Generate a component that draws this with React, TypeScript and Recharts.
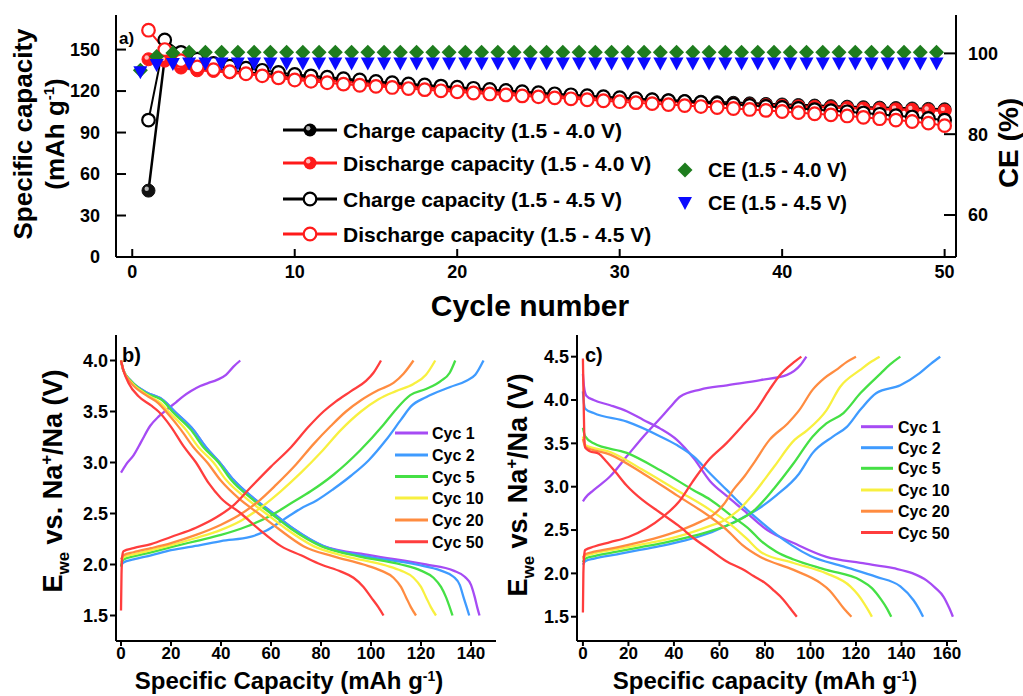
import React from 'react';
import { ComposedChart, LineChart, Line, XAxis, YAxis } from 'recharts';

const FONT = '"Liberation Sans", Arial, Helvetica, sans-serif';

// ---------- Panel a data ----------
const cycles = [1,2,3,4,5,6,7,8,9,10,11,12,13,14,15,16,17,18,19,20,21,22,23,24,25,26,27,28,29,30,31,32,33,34,35,36,37,38,39,40,41,42,43,44,45,46,47,48,49,50];
const charge40 = [48,144,138,136,135.5,134.5,133.5,132.5,131.5,130.5,129.5,128.6,127.7,126.8,125.9,125,124.2,123.4,122.6,121.8,121,120.3,119.6,118.9,118.2,117.5,116.8,116.1,115.5,114.9,114.3,113.8,113.3,112.8,112.3,111.9,111.5,111.1,110.7,110.3,109.9,109.5,109.1,108.7,108.3,108,107.7,107.4,107.1,106.8];
const discharge40 = [143,142,137,135,134.5,133.5,132.5,131.5,130.5,129.5,128.5,127.6,126.7,125.8,124.9,124,123.2,122.4,121.6,120.8,120,119.3,118.6,117.9,117.2,116.5,115.8,115.1,114.5,113.9,113.3,112.8,112.3,111.8,111.3,110.9,110.5,110.1,109.7,109.3,108.9,108.5,108.1,107.7,107.3,107,106.7,106.4,106.1,105.8];
const charge45 = [99,157,148,143,140,138,136.5,135,133.5,132,131,130,129,128,127,126,125.2,124.4,123.6,122.8,122,121.2,120.4,119.6,118.8,118,117.3,116.6,115.9,115.2,114.5,113.8,113.1,112.4,111.7,111,110.3,109.6,108.9,108.2,107.4,106.6,105.8,105,104.1,103.2,102.2,101.2,100.2,99];
const discharge45 = [164,150,142,137.5,135.5,134,132.5,131,129.5,128,127,126,125,124.2,123.4,122.6,121.8,121,120.2,119.4,118.6,117.9,117.2,116.5,115.8,115.1,114.4,113.7,113,112.3,111.6,110.9,110.2,109.5,108.8,108.1,107.4,106.7,106,105.2,104.4,103.6,102.8,102,101,100,99,98,96.8,95];
const ce40 = [95.8,99.2,100.1,100.3,100.3,100.3,100.3,100.3,100.3,100.3,100.3,100.3,100.3,100.3,100.3,100.3,100.3,100.3,100.3,100.3,100.3,100.3,100.3,100.3,100.3,100.3,100.3,100.3,100.3,100.3,100.3,100.3,100.3,100.3,100.3,100.3,100.3,100.3,100.3,100.3,100.3,100.3,100.3,100.3,100.3,100.3,100.3,100.3,100.3,100.3];
const ce45 = [95.3,97.1,97.4,97.5,97.5,97.5,97.5,97.5,97.5,97.5,97.5,97.5,97.5,97.5,97.5,97.5,97.5,97.5,97.5,97.5,97.5,97.5,97.5,97.5,97.5,97.5,97.5,97.5,97.5,97.5,97.5,97.5,97.5,97.5,97.5,97.5,97.5,97.5,97.5,97.5,97.5,97.5,97.5,97.5,97.5,97.5,97.5,97.5,97.5,97.5];
const ceCycleShift = -0.5;
const capTicks = [0, 30, 60, 90, 120, 150];
const ceTicks = [60, 80, 100];
const cycleTicks = [0, 10, 20, 30, 40, 50];

// ---------- Panel b data (1.5 - 4.0 V) ----------
const bCharge1 = [[0,2.9],[2,2.98],[5,3.07],[8,3.2],[11.7,3.36],[15,3.45],[18.4,3.52],[22,3.59],[25,3.65],[28,3.7],[31.7,3.75],[35,3.78],[38.4,3.81],[42,3.86],[45,3.94],[47.7,4.0]];
const bDis1 = [[0,4.0],[1,3.9],[4,3.8],[10,3.69],[17,3.61],[21.5,3.5],[29,3.32],[34,3.15],[39.5,3.0],[45,2.83],[53,2.65],[61,2.5],[69,2.35],[81,2.18],[100,2.09],[122,2.0],[133,1.94],[137.5,1.88],[140,1.8],[141.5,1.68],[142.5,1.58],[143.4,1.5]];
const bCharge2 = [[0,1.98],[0.3,2.0],[1,2.02],[5,2.05],[12,2.09],[20,2.14],[31.7,2.19],[40,2.23],[51.7,2.27],[58,2.33],[65,2.44],[72,2.55],[78.4,2.63],[85,2.74],[92,2.87],[99,3.02],[106,3.22],[112,3.42],[116,3.55],[122,3.64],[131.7,3.74],[138,3.8],[141.7,3.86],[145,4.0]];
const bDis2 = [[0,4.0],[1,3.9],[4,3.8],[10,3.69],[17,3.61],[21.5,3.5],[29,3.32],[34,3.15],[39.5,3.0],[45,2.83],[53,2.65],[61,2.5],[69,2.35],[81,2.18],[98,2.08],[118,2.0],[128,1.94],[133,1.88],[135.5,1.8],[137,1.68],[138.3,1.58],[139.3,1.5]];
const bCharge5 = [[0,1.98],[0.3,2.02],[1,2.05],[5,2.08],[12,2.12],[20,2.17],[30,2.23],[40,2.29],[50,2.37],[60,2.48],[68,2.6],[76,2.72],[85,2.88],[95.7,3.12],[105,3.37],[110,3.52],[115.7,3.66],[122,3.72],[128,3.8],[131.5,3.88],[133.7,4.0]];
const bDis5 = [[0,4.0],[1,3.9],[4,3.8],[10,3.68],[17,3.6],[20.5,3.5],[28,3.32],[33,3.15],[39,3.0],[44,2.83],[52,2.65],[60,2.5],[68,2.35],[80,2.18],[95,2.08],[112,2.0],[120,1.94],[125,1.87],[128,1.78],[130,1.68],[131.5,1.58],[132.6,1.5]];
const bCharge10 = [[0,2.02],[1,2.07],[5,2.1],[12,2.14],[20,2.19],[30,2.26],[40,2.34],[48,2.43],[56,2.56],[64,2.72],[72,2.9],[80,3.1],[88,3.32],[96,3.5],[103,3.62],[110,3.7],[117,3.77],[122,3.86],[125.7,4.0]];
const bDis10 = [[0,4.0],[1,3.9],[4,3.79],[10,3.67],[16,3.58],[19,3.5],[26,3.32],[31,3.15],[37,3.0],[42,2.83],[50,2.65],[58,2.5],[66,2.35],[77,2.18],[90,2.08],[106,1.99],[112,1.94],[117,1.87],[120,1.78],[122,1.68],[124,1.58],[126,1.5]];
const bCharge20 = [[0,2.05],[1,2.09],[5,2.12],[12,2.16],[20,2.21],[30,2.29],[40,2.39],[47,2.48],[55,2.62],[62,2.78],[70,2.98],[77,3.18],[84,3.36],[90,3.5],[96,3.61],[103,3.71],[109,3.78],[113,3.87],[117,4.0]];
const bDis20 = [[0,4.0],[1,3.9],[4,3.78],[10,3.66],[15,3.58],[18,3.5],[24,3.32],[29,3.15],[34.5,3.0],[40,2.82],[47,2.65],[55,2.5],[63,2.35],[73,2.18],[85,2.08],[97,2.0],[104,1.94],[109,1.87],[112,1.78],[114,1.68],[116,1.58],[118,1.5]];
const bCharge50 = [[0,1.55],[0.2,1.9],[0.5,2.08],[1,2.13],[5,2.16],[12,2.2],[20,2.27],[30,2.36],[38,2.46],[45,2.58],[52,2.76],[60,2.96],[68,3.15],[75,3.35],[81,3.5],[86,3.6],[92,3.7],[98,3.8],[101,3.88],[104,4.0]];
const bDis50 = [[0,4.0],[1,3.9],[3,3.78],[7,3.65],[12,3.56],[15,3.5],[20,3.35],[25,3.16],[30,3.0],[35,2.8],[40,2.65],[48,2.5],[55,2.35],[64,2.18],[72,2.09],[80,2.0],[88,1.93],[93,1.87],[97,1.78],[100,1.68],[103,1.58],[105,1.5]];

// ---------- Panel c data (1.5 - 4.5 V) ----------
const cCharge1 = [[0,2.83],[1,2.87],[4.7,2.96],[12,3.12],[19.3,3.35],[26.6,3.58],[34,3.79],[38.4,3.92],[42.8,4.04],[51.6,4.12],[63.3,4.17],[78,4.23],[89.7,4.29],[95.5,4.4],[98.2,4.5]];
const cDis1 = [[0,4.3],[0.5,4.15],[1.5,4.05],[4.7,4.0],[12,3.94],[19.3,3.87],[26.6,3.77],[34,3.67],[41.3,3.54],[48.6,3.33],[56,3.06],[63.3,2.89],[70.6,2.73],[81,2.5],[92.6,2.35],[107,2.19],[122,2.12],[136.5,2.06],[145,2.0],[151,1.92],[155,1.83],[158.5,1.73],[161,1.6],[162.6,1.5]];
const cCharge2 = [[0,2.1],[1,2.14],[5,2.17],[15,2.22],[25,2.27],[35,2.32],[45,2.38],[55,2.46],[63,2.55],[70,2.64],[78,2.76],[85,2.9],[95,3.15],[101,3.39],[110,3.58],[116,3.69],[122,3.89],[129,4.08],[139.5,4.17],[148,4.31],[153,4.42],[157,4.5]];
const cDis2 = [[0,4.1],[0.5,3.95],[1,3.9],[4.7,3.85],[19.3,3.75],[34,3.58],[41.3,3.48],[48.6,3.35],[56,3.15],[63.3,2.96],[70.6,2.77],[78,2.6],[85,2.45],[92,2.32],[100,2.2],[114.5,2.08],[129,1.96],[139.5,1.85],[145.3,1.69],[147.5,1.6],[149.5,1.5]];
const cCharge5 = [[0,2.13],[1,2.17],[5,2.2],[15,2.25],[25,2.3],[35,2.35],[45,2.41],[55,2.48],[65,2.57],[75,2.72],[84,2.98],[92.6,3.27],[101,3.58],[107,3.73],[114.5,3.85],[122,4.08],[131,4.31],[135,4.41],[139.5,4.5]];
const cDis5 = [[0,3.68],[0.5,3.62],[1,3.58],[4.7,3.5],[19.3,3.39],[34,3.19],[48.6,2.96],[56,2.85],[66,2.65],[73.5,2.5],[78,2.38],[85,2.25],[92.6,2.16],[107,2.04],[122,1.92],[127,1.83],[131,1.7],[133.5,1.6],[135.5,1.5]];
const cCharge10 = [[0,2.16],[1,2.2],[5,2.23],[15,2.28],[25,2.33],[35,2.38],[45,2.45],[55,2.54],[62,2.61],[68,2.72],[75,2.92],[84,3.23],[93,3.54],[98.5,3.65],[107,3.88],[113,4.15],[122,4.35],[126,4.43],[130.4,4.5]];
const cDis10 = [[0,3.58],[0.5,3.52],[1,3.48],[12,3.4],[26.6,3.19],[41.3,2.96],[56,2.73],[66,2.54],[72,2.4],[78,2.25],[92.6,2.12],[107,2.0],[117.5,1.85],[121,1.75],[123.4,1.66],[125.5,1.57],[127,1.5]];
const cCharge20 = [[0,2.18],[1,2.22],[5,2.25],[15,2.3],[25,2.36],[35,2.43],[45,2.52],[52,2.6],[57,2.67],[62,2.8],[66,2.96],[71,3.12],[75,3.27],[82,3.54],[90,3.73],[95,3.88],[101,4.12],[106,4.25],[112,4.36],[116,4.44],[120,4.5]];
const cDis20 = [[0,3.55],[0.5,3.5],[1,3.46],[12,3.37],[26.6,3.15],[41.3,2.9],[56,2.65],[63.3,2.5],[70,2.33],[78,2.19],[92.6,2.04],[104.3,1.89],[108.5,1.8],[111.6,1.7],[114.5,1.6],[118,1.5]];
const cCharge50 = [[0,1.55],[0.2,2.0],[0.6,2.22],[1,2.27],[5,2.31],[12,2.36],[20,2.42],[28,2.52],[35,2.65],[42,2.82],[48,3.05],[55,3.3],[63,3.5],[70,3.7],[76,3.88],[82,4.12],[87,4.3],[92,4.42],[96,4.5]];
const cDis50 = [[0,4.48],[0.3,4.0],[0.6,3.6],[1,3.45],[3,3.41],[7,3.38],[10,3.3],[14,3.18],[19,3.02],[26,2.85],[34,2.7],[42,2.55],[49,2.4],[56,2.27],[63,2.14],[70,2.05],[75,1.97],[80,1.89],[84,1.8],[88,1.7],[91,1.6],[94,1.5]];

const cycLabels = ['Cyc 1', 'Cyc 2', 'Cyc 5', 'Cyc 10', 'Cyc 20', 'Cyc 50'];
const cycColors = ['#a64bf4', '#3f9bff', '#45e045', '#f8f040', '#ff8c40', '#ff3d3d'];
const bCurves = [[bCharge1, bDis1], [bCharge2, bDis2], [bCharge5, bDis5], [bCharge10, bDis10], [bCharge20, bDis20], [bCharge50, bDis50]];
const cCurves = [[cCharge1, cDis1], [cCharge2, cDis2], [cCharge5, cDis5], [cCharge10, cDis10], [cCharge20, cDis20], [cCharge50, cDis50]];
const bVTicks = [1.5, 2.0, 2.5, 3.0, 3.5, 4.0];
const cVTicks = [1.5, 2.0, 2.5, 3.0, 3.5, 4.0, 4.5];
const bCapTicks = [0, 20, 40, 60, 80, 100, 120, 140];
const cCapTicks = [0, 20, 40, 60, 80, 100, 120, 140, 160];

const toPts = (arr: number[][]) => arr.map(([x, v]) => ({ x, v }));

const capRows = cycles.map((c, i) => ({
  x: c,
  charge40: charge40[i],
  discharge40: discharge40[i],
  charge45: charge45[i],
  discharge45: discharge45[i],
}));
const ce40Rows = cycles.map((c, i) => ({ x: c + ceCycleShift, ce: ce40[i] }));
const ce45Rows = cycles.map((c, i) => ({ x: c + ceCycleShift, ce: ce45[i] }));

const axisStroke = { stroke: '#000', strokeWidth: 2 };
const tickStyle = { fill: '#000', fontSize: 18, fontWeight: 'bold', fontFamily: FONT };
const bottomTickStyle = { fill: '#000', fontSize: 17, fontWeight: 'bold', fontFamily: FONT };

const filledDot = (color: string) => (props: any) => {
  const { cx, cy, index } = props;
  if (cx == null || cy == null) return <g key={`f${index}`} />;
  return (
    <g key={`f${color}${index}`}>
      <circle cx={cx} cy={cy} r={6.5} fill={color} stroke={color} strokeWidth={1} />
      <circle cx={cx - 1.8} cy={cy - 1.8} r={2.2} fill="#fff" opacity={0.7} />
    </g>
  );
};
const openDot = (color: string) => (props: any) => {
  const { cx, cy, index } = props;
  if (cx == null || cy == null) return <g key={`o${index}`} />;
  return <circle key={`o${color}${index}`} cx={cx} cy={cy} r={6.3} fill="#fff" stroke={color} strokeWidth={2.2} />;
};
const diamondDot = (props: any) => {
  const { cx, cy, index } = props;
  if (cx == null || cy == null) return <g key={`dm${index}`} />;
  const s = 7.5;
  return <polygon key={`dm${index}`} points={`${cx},${cy - s} ${cx + s},${cy} ${cx},${cy + s} ${cx - s},${cy}`} fill="#1e7d1e" />;
};
const triDot = (props: any) => {
  const { cx, cy, index } = props;
  if (cx == null || cy == null) return <g key={`tr${index}`} />;
  return <polygon key={`tr${index}`} points={`${cx - 7},${cy - 6} ${cx + 7},${cy - 6} ${cx},${cy + 7}`} fill="#0a0aff" />;
};

function TopChart() {
  return (
    <ComposedChart width={1023} height={300} data={capRows} margin={{ top: 15, right: 0, bottom: 13, left: 0 }}>
      <XAxis xAxisId="b" dataKey="x" type="number" domain={[-1, 50.7]} ticks={cycleTicks} allowDataOverflow
        height={30} axisLine={axisStroke} tickLine={axisStroke} tickSize={-8} tickMargin={16} tick={tickStyle} />
      <XAxis xAxisId="t" orientation="top" type="number" domain={[0, 1]} height={0} tick={false} tickLine={false} axisLine={axisStroke} />
      <YAxis yAxisId="cap" type="number" domain={[0, 175]} ticks={capTicks} width={116} allowDataOverflow
        axisLine={axisStroke} tickLine={axisStroke} tickSize={-10} tickMargin={26} tick={tickStyle} />
      <YAxis yAxisId="ce" orientation="right" type="number" domain={[49.6, 109.5]} ticks={ceTicks} width={67} allowDataOverflow
        axisLine={axisStroke} tickLine={axisStroke} tickSize={-12} tickMargin={24} tick={{ ...tickStyle, textAnchor: 'start' }} />
      <Line xAxisId="b" yAxisId="cap" dataKey="charge40" stroke="#000" strokeWidth={2.5} dot={filledDot('#111')} isAnimationActive={false} />
      <Line xAxisId="b" yAxisId="cap" dataKey="discharge40" stroke="#ff1a1a" strokeWidth={2.5} dot={filledDot('#ff1a1a')} isAnimationActive={false} />
      <Line xAxisId="b" yAxisId="cap" dataKey="charge45" stroke="#000" strokeWidth={2} dot={openDot('#000')} isAnimationActive={false} />
      <Line xAxisId="b" yAxisId="cap" dataKey="discharge45" stroke="#ff1a1a" strokeWidth={2} dot={openDot('#ff1a1a')} isAnimationActive={false} />
      <Line xAxisId="b" yAxisId="ce" data={ce40Rows} dataKey="ce" stroke="none" dot={diamondDot} isAnimationActive={false} />
      <Line xAxisId="b" yAxisId="ce" data={ce45Rows} dataKey="ce" stroke="none" dot={triDot} isAnimationActive={false} />
    </ComposedChart>
  );
}

function VoltChart(props: { curves: number[][][][]; capDomain: number[]; capTicks: number[]; vDomain: number[]; vTicks: number[]; yWidth: number; width: number; rightMargin: number }) {
  const { curves, capDomain, capTicks: cts, vDomain, vTicks, yWidth, width, rightMargin } = props;
  return (
    <LineChart width={width} height={376} margin={{ top: 15, right: rightMargin, bottom: 25, left: 0 }}>
      <XAxis xAxisId="b" dataKey="x" type="number" domain={capDomain} ticks={cts} allowDataOverflow height={30}
        axisLine={axisStroke} tickLine={axisStroke} tickSize={5} tickMargin={1} tick={bottomTickStyle} />
      <XAxis xAxisId="t" orientation="top" type="number" domain={[0, 1]} height={0} tick={false} tickLine={false} axisLine={axisStroke} />
      <YAxis yAxisId="l" type="number" domain={vDomain} ticks={vTicks} width={yWidth} allowDataOverflow
        axisLine={axisStroke} tickLine={axisStroke} tickSize={6} tickMargin={2} tick={tickStyle}
        tickFormatter={(v: number) => v.toFixed(1)} />
      <YAxis yAxisId="r" orientation="right" type="number" domain={[0, 1]} width={0} tick={false} tickLine={false} axisLine={axisStroke} />
      {curves.map((pair, i) =>
        pair.map((arr, j) => (
          <Line key={`${i}-${j}`} xAxisId="b" yAxisId="l" data={toPts(arr)} dataKey="v" type="monotone"
            stroke={cycColors[i]} strokeWidth={2.3} dot={false} isAnimationActive={false} />
        ))
      )}
    </LineChart>
  );
}

const txt = { fontFamily: FONT, fontWeight: 'bold' as const, fill: '#000' };

function Overlay() {
  const topLegend = [
    { label: 'Charge capacity (1.5 - 4.0 V)', color: '#000', filled: true, y: 130 },
    { label: 'Discharge capacity (1.5 - 4.0 V)', color: '#ff1a1a', filled: true, y: 163 },
    { label: 'Charge capacity (1.5 - 4.5 V)', color: '#000', filled: false, y: 199 },
    { label: 'Discharge capacity (1.5 - 4.5 V)', color: '#ff1a1a', filled: false, y: 234 },
  ];
  const bRows = [433, 455, 476.5, 498, 520, 541.7];
  const cRows = [426.7, 447.7, 468.3, 490, 511.2, 532.5];
  return (
    <svg width={1023} height={696} style={{ position: 'absolute', left: 0, top: 0, pointerEvents: 'none' }}>
      {/* panel a */}
      <text x={119} y={44} fontSize={17} {...txt}>a)</text>
      <g transform="translate(23,134) rotate(-90)">
        <text x={0} y={9} textAnchor="middle" fontSize={26} {...txt}>Specific capacity</text>
      </g>
      <g transform="translate(55,134) rotate(-90)">
        <text x={0} y={9} textAnchor="middle" fontSize={26} {...txt}>(mAh g<tspan dy={-10} fontSize={15}>-1</tspan><tspan dy={10}>)</tspan></text>
      </g>
      <g transform="translate(1008,143) rotate(-90)">
        <text x={0} y={10} textAnchor="middle" fontSize={28} {...txt}>CE (%)</text>
      </g>
      <text x={530} y={316} textAnchor="middle" fontSize={30} {...txt}>Cycle number</text>
      {topLegend.map((e) => (
        <g key={e.label}>
          <line x1={283} x2={337} y1={e.y} y2={e.y} stroke={e.color} strokeWidth={3} />
          {e.filled ? (
            <g>
              <circle cx={310} cy={e.y} r={6.5} fill={e.color} />
              <circle cx={308.2} cy={e.y - 1.8} r={2.2} fill="#fff" opacity={0.7} />
            </g>
          ) : (
            <circle cx={310} cy={e.y} r={6.3} fill="#fff" stroke={e.color} strokeWidth={2.2} />
          )}
          <text x={343} y={e.y + 7.5} fontSize={21} {...txt}>{e.label}</text>
        </g>
      ))}
      <polygon points="685,162.5 692.5,170 685,177.5 677.5,170" fill="#1e7d1e" />
      <text x={708} y={177} fontSize={20} {...txt}>CE (1.5 - 4.0 V)</text>
      <polygon points="678,197 692,197 685,210" fill="#0a0aff" />
      <text x={708} y={210} fontSize={20} {...txt}>CE (1.5 - 4.5 V)</text>

      {/* panel b */}
      <text x={122} y={362} fontSize={20} {...txt}>b)</text>
      <g transform="translate(52,481) rotate(-90)">
        <text x={0} y={10} textAnchor="middle" fontSize={27} {...txt}>E<tspan dy={7} fontSize={17}>we</tspan><tspan dy={-7}> vs. Na</tspan><tspan dy={-10} fontSize={17}>+</tspan><tspan dy={10}>/Na (V)</tspan></text>
      </g>
      <text x={289} y={689} textAnchor="middle" fontSize={24} {...txt}>Specific Capacity (mAh g<tspan dy={-8} fontSize={14}>-1</tspan><tspan dy={8}>)</tspan></text>
      {cycLabels.map((l, i) => (
        <g key={`bl${l}`}>
          <line x1={395} x2={428} y1={bRows[i]} y2={bRows[i]} stroke={cycColors[i]} strokeWidth={3} />
          <text x={432} y={bRows[i] + 6} fontSize={16} {...txt}>{l}</text>
        </g>
      ))}

      {/* panel c */}
      <text x={585} y={362} fontSize={20} {...txt}>c)</text>
      <g transform="translate(517,485) rotate(-90)">
        <text x={0} y={10} textAnchor="middle" fontSize={27} {...txt}>E<tspan dy={7} fontSize={17}>we</tspan><tspan dy={-7}> vs. Na</tspan><tspan dy={-10} fontSize={17}>+</tspan><tspan dy={10}>/Na (V)</tspan></text>
      </g>
      <text x={765} y={689} textAnchor="middle" fontSize={24} {...txt}>Specific capacity (mAh g<tspan dy={-8} fontSize={14}>-1</tspan><tspan dy={8}>)</tspan></text>
      {cycLabels.map((l, i) => (
        <g key={`cl${l}`}>
          <line x1={861} x2={893} y1={cRows[i]} y2={cRows[i]} stroke={cycColors[i]} strokeWidth={3} />
          <text x={898} y={cRows[i] + 6} fontSize={16} {...txt}>{l}</text>
        </g>
      ))}
    </svg>
  );
}

export default function App() {
  return (
    <div style={{ position: 'absolute', left: 0, top: 0, width: 1023, height: 696, background: '#fff', overflow: 'hidden' }}>
      <div style={{ position: 'absolute', left: 0, top: 0 }}>
        <TopChart />
      </div>
      <div style={{ position: 'absolute', left: 0, top: 320 }}>
        <VoltChart curves={bCurves} capDomain={[-2, 150]} capTicks={bCapTicks} vDomain={[1.25, 4.25]} vTicks={bVTicks} yWidth={116} width={500} rightMargin={4} />
      </div>
      <div style={{ position: 'absolute', left: 500, top: 320 }}>
        <VoltChart curves={cCurves} capDomain={[-2.6, 164.4]} capTicks={cCapTicks} vDomain={[1.22, 4.75]} vTicks={cVTicks} yWidth={77} width={523} rightMargin={66} />
      </div>
      <Overlay />
    </div>
  );
}
